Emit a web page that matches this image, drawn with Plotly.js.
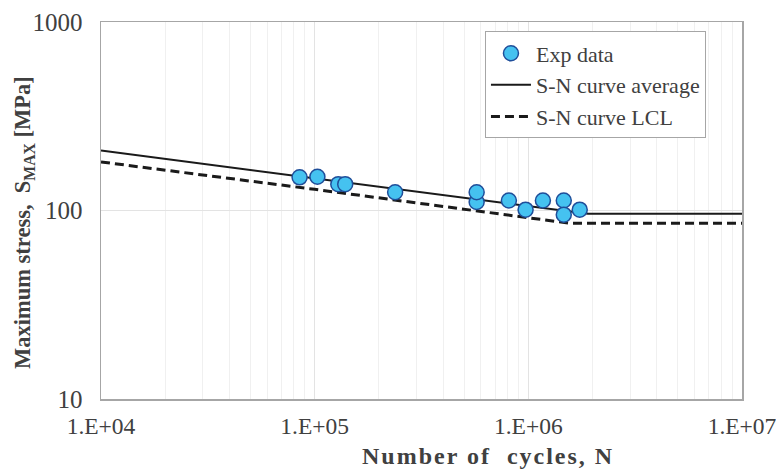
<!DOCTYPE html>
<html>
<head>
<meta charset="utf-8">
<script src="https://cdn.plot.ly/plotly-3.0.1.min.js"></script>
<style>
html,body{margin:0;padding:0;background:#fff;}
#chart{width:776px;height:469px;}
</style>
</head>
<body>
<div id="chart"></div>
<script>
// Experimental data
var expN = [85000, 103000, 129000, 139000, 238000, 573000, 573000, 811000, 971000, 1170000, 1465000, 1465000, 1740000];
var expS = [150, 151, 138, 138, 125, 111, 125, 113, 101, 113, 113, 95, 101];
// S-N curve average
var avgN = [1e4, 1e5, 1e6, 1.9e6, 1e7];
var avgS = [208, 148, 105, 96, 96];
// S-N curve LCL
var lclN = [1e4, 1e5, 1e6, 1.57e6, 1e7];
var lclS = [181, 129.5, 91.5, 85.5, 85.5];
// tick labels
var xTickVals = [1e4, 1e5, 1e6, 1e7];
var xTickText = ["1.E+04", "1.E+05", "1.E+06", "1.E+07"];
var yTickVals = [10, 100, 1000];
var yTickText = ["10", "100", "1000"];
var xTitle = "<b>Number of  cycles, N</b>";
var yTitle = "<b>Maximum stress,  S<sub>MAX</sub> [MPa]</b>";

var minorX = [];
for (var d = 4; d < 7; d++) for (var k = 2; k <= 9; k++) minorX.push(k * Math.pow(10, d));

var FONT = "Liberation Serif, Times New Roman, serif";
var TXT = '#404040';

var traces = [
  {x: avgN, y: avgS, type: 'scatter', mode: 'lines', name: 'S-N curve average', legendrank: 2,
   line: {color: '#1a1a1a', width: 2}},
  {x: lclN, y: lclS, type: 'scatter', mode: 'lines', name: 'S-N curve LCL', legendrank: 3,
   line: {color: '#1a1a1a', width: 3, dash: '9px,5px'}},
  {x: expN, y: expS, type: 'scatter', mode: 'markers', name: 'Exp data', legendrank: 1,
   marker: {size: 15, color: '#45C2F0', line: {color: '#1F4E9A', width: 1.5}}}
];

var layout = {
  width: 776, height: 469,
  margin: {l: 101, r: 34, t: 22, b: 70},
  paper_bgcolor: '#fff', plot_bgcolor: '#fff',
  font: {family: FONT, color: TXT, size: 22},
  showlegend: true,
  legend: {
    x: 0.599, y: 0.975, xanchor: 'left', yanchor: 'top',
    bgcolor: '#fff', bordercolor: '#A6A6A6', borderwidth: 1,
    font: {family: FONT, size: 22, color: TXT},
    itemwidth: 40,
    traceorder: 'normal', tracegroupgap: 0
  },
  xaxis: {
    type: 'log', range: [4, 7],
    tickmode: 'array', tickvals: xTickVals, ticktext: xTickText,
    ticks: '', showline: true, linecolor: '#A6A6A6', linewidth: 1.5, mirror: true,
    showgrid: true, gridcolor: '#E3E3E3', gridwidth: 1, zeroline: false,
    tickfont: {family: FONT, size: 23.5, color: TXT},
    ticklabelstandoff: 5, ticklabeloverflow: 'allow',
    minor: {tickmode: 'array', tickvals: minorX, showgrid: true, gridcolor: '#F0F0F0', gridwidth: 1, ticks: ''}
  },
  yaxis: {
    type: 'log', range: [1, 3],
    tickmode: 'array', tickvals: yTickVals, ticktext: yTickText,
    ticks: '', showline: true, linecolor: '#A6A6A6', linewidth: 1.5, mirror: true,
    showgrid: true, gridcolor: '#E3E3E3', gridwidth: 1, zeroline: false,
    tickfont: {family: FONT, size: 25, color: TXT},
    ticklabelstandoff: 12, ticklabeloverflow: 'allow'
  },
  annotations: [
    {text: xTitle, xref: 'paper', yref: 'paper', x: 0.605, y: -0.15, xanchor: 'center', yanchor: 'middle',
     showarrow: false, font: {family: FONT, size: 24, color: TXT}},
    {text: yTitle, xref: 'paper', yref: 'paper', x: -0.121, y: 0.468, xanchor: 'center', yanchor: 'middle',
     textangle: -90, showarrow: false, font: {family: FONT, size: 22.5, color: TXT}}
  ]
};

Plotly.newPlot('chart', traces, layout, {staticPlot: true, displayModeBar: false}).then(function(){
  var a = document.querySelectorAll('.annotation-text');
  if (a.length) a[0].style.letterSpacing = '2px';
});
</script>
</body>
</html>
